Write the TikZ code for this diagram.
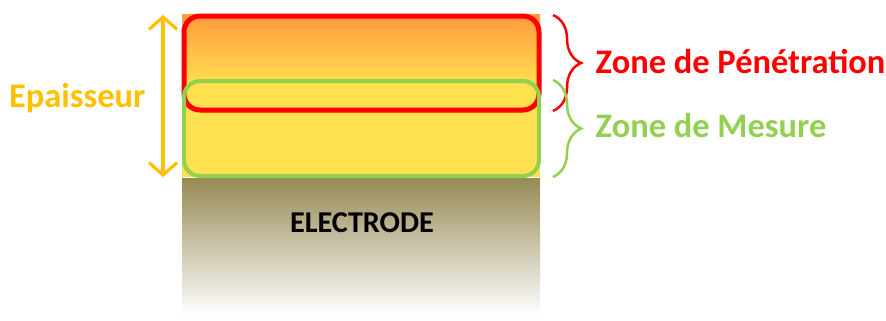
\documentclass[tikz,border=0pt]{standalone}
\usepackage{fontspec}
\setmainfont{Carlito}
\usepackage{xcolor}
\usetikzlibrary{calc}
\usetikzlibrary{positioning}
\usetikzlibrary{decorations.pathreplacing}
\usetikzlibrary{arrows.meta}

\definecolor{epaisOrange}{HTML}{FFC000}
\definecolor{penRed}{HTML}{FF0000}
\definecolor{mesGreen}{HTML}{92D050}
\definecolor{topOrange}{HTML}{FF9A3C}
\definecolor{midYellow}{HTML}{FFE04E}
\definecolor{electOlive}{HTML}{968A55}

\tikzset{
    zonebrace/.style={decorate, decoration={brace, amplitude=8pt}, line width=0.7pt},
    zonelabel/.style={font=\fontsize{9.8}{11}\selectfont\bfseries, anchor=west, inner sep=0pt}
}

\begin{document}
\begin{tikzpicture}
    \useasboundingbox (0,0) rectangle (8.86,3.20);

    % 1. The layer (orange on top, yellow below)
    \fill[midYellow] (1.82,1.43) rectangle (5.40,2.36);
    \shade[top color=topOrange, bottom color=midYellow] (1.82,2.35) rectangle (5.40,3.06);

    % 2. The electrode underneath
    \shade[top color=electOlive, middle color=electOlive!45, bottom color=white] (1.82,0.05) rectangle (5.40,1.42);
    \node[font=\fontsize{8.6}{10}\selectfont\bfseries] (electrode) at (3.62,0.97) {ELECTRODE};

    % 3. Zone de penetration and zone de mesure
    \draw[penRed, line width=0.5mm, rounded corners=1.6mm] (1.84,2.10) rectangle (5.39,3.04);
    \draw[mesGreen, line width=0.4mm, rounded corners=1.6mm] (1.84,1.44) rectangle (5.39,2.39);

    % 4. Thickness arrow
    \coordinate (epTop) at (1.63,3.05);
    \coordinate (epBot) at (1.63,1.43);
    \draw[{Straight Barb[length=3.5pt,width=8pt]}-{Straight Barb[length=3.5pt,width=8pt]}, epaisOrange, line width=0.9pt] (epTop) -- (epBot);
    \node[zonelabel, epaisOrange, anchor=east] (epaisseur) at (1.46,2.22) {Epaisseur};

    % 5. Braces with their labels
    \draw[zonebrace, penRed] (5.53,3.05) -- (5.53,2.09) coordinate[midway, xshift=9pt] (penTip);
    \draw[zonebrace, mesGreen] (5.53,2.40) -- (5.53,1.43) coordinate[midway, xshift=9pt] (mesTip);
    \node[zonelabel, penRed] (penetration) at (5.95,2.58) {Zone de Pénétration};
    \node[zonelabel, mesGreen] (mesure) at (5.95,1.94) {Zone de Mesure};

\end{tikzpicture}
\end{document}
